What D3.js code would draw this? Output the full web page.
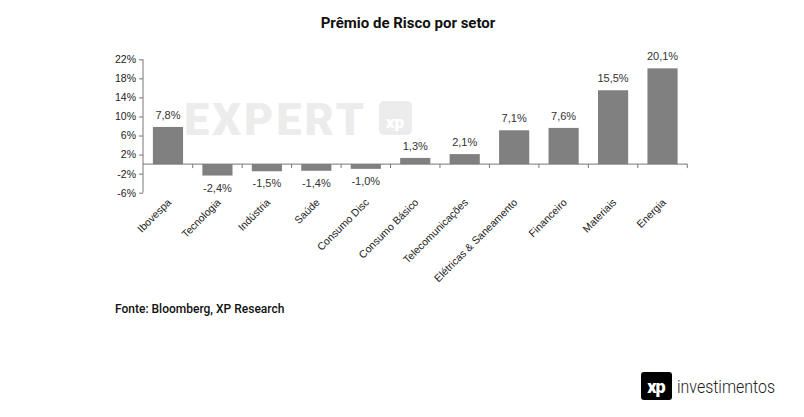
<!DOCTYPE html>
<html>
<head>
<meta charset="utf-8">
<script src="https://cdn.jsdelivr.net/npm/d3@7"></script>
<style>
  body { margin: 0; background: #fff; }
</style>
</head>
<body>
<div id="chart"></div>
<script>
var setores = ["Ibovespa", "Tecnologia", "Indústria", "Saúde", "Consumo Disc", "Consumo Básico",
  "Telecomunicações", "Elétricas & Saneamento", "Financeiro", "Materiais", "Energia"];
var premio = [7.8, -2.4, -1.5, -1.4, -1.0, 1.3, 2.1, 7.1, 7.6, 15.5, 20.1];
var yTicks = [-6, -2, 2, 6, 10, 14, 18, 22];

var svg = d3.select("#chart")
  .append("svg")
  .attr("width", 804)
  .attr("height", 417);

// marca d'agua
var wm = svg.append("g").attr("fill", "#ececec");
wm.append("text")
  .attr("x", 184).attr("y", 135)
  .attr("font-family", "Roboto, sans-serif")
  .attr("font-weight", "900")
  .attr("font-size", 45)
  .attr("letter-spacing", 3)
  .text("EXPERT");
wm.append("rect")
  .attr("x", 379).attr("y", 101).attr("width", 33).attr("height", 34).attr("rx", 5);
wm.append("text")
  .attr("x", 395).attr("y", 128)
  .attr("text-anchor", "middle")
  .attr("fill", "#fff")
  .attr("font-family", "Roboto, sans-serif")
  .attr("font-weight", "900")
  .attr("font-size", 17)
  .text("xp");

var x = d3.scaleBand()
  .domain(setores)
  .range([143, 687.5])
  .paddingInner(0.39)
  .paddingOuter(0.2);

var y = d3.scaleLinear()
  .domain([-6, 22])
  .range([192.7, 59.3]);

svg.append("text")
  .attr("x", 408).attr("y", 28)
  .attr("text-anchor", "middle")
  .attr("font-family", "Roboto, sans-serif")
  .attr("font-weight", "bold")
  .attr("font-size", 15)
  .attr("fill", "#111")
  .text("Prêmio de Risco por setor");

// eixo y
var yAxis = svg.append("g")
  .attr("transform", "translate(143,0)")
  .call(d3.axisLeft(y).tickValues(yTicks).tickSize(4).tickFormat(function (d) { return d + "%"; }));
yAxis.selectAll("path, line").attr("stroke", "#777");
yAxis.select(".domain").attr("d", "M0," + y(-6) + "V" + y(22));
yAxis.selectAll("text")
  .attr("font-family", "Liberation Sans, Arial, sans-serif")
  .attr("font-size", 10.5)
  .attr("fill", "#222");

// barras
svg.selectAll(".bar")
  .data(premio)
  .enter()
  .append("rect")
  .attr("x", function (d, i) { return x(setores[i]); })
  .attr("width", x.bandwidth())
  .attr("y", function (d) { return y(Math.max(d, 0)); })
  .attr("height", function (d) { return Math.abs(y(d) - y(0)); })
  .attr("fill", "#808080");

// linha do zero com divisões
var step = x.step();
var zero = y(0);
var gap = step - x.bandwidth();
svg.append("line")
  .attr("x1", 143).attr("x2", 687.5)
  .attr("y1", zero).attr("y2", zero)
  .attr("stroke", "#777");
for (var i = 1; i <= setores.length; i++) {
  var tx = x(setores[0]) - gap / 2 + step * i;
  svg.append("line")
    .attr("x1", tx).attr("x2", tx)
    .attr("y1", zero).attr("y2", zero + 4)
    .attr("stroke", "#777");
}

// rótulos
svg.selectAll(".lbl")
  .data(premio)
  .enter()
  .append("text")
  .attr("x", function (d, i) { return x(setores[i]) + x.bandwidth() / 2; })
  .attr("y", function (d) { return d >= 0 ? y(d) - 8 : y(d) + 16; })
  .attr("text-anchor", "middle")
  .attr("font-family", "Liberation Sans, Arial, sans-serif")
  .attr("font-size", 11)
  .attr("fill", "#333")
  .text(function (d) { return d.toFixed(1).replace(".", ",") + "%"; });

// categorias
svg.selectAll(".cat")
  .data(setores)
  .enter()
  .append("text")
  .attr("transform", function (d) {
    return "translate(" + (x(d) + x.bandwidth() / 2 + 4) + ",203) rotate(-45)";
  })
  .attr("text-anchor", "end")
  .attr("font-family", "Liberation Sans, Arial, sans-serif")
  .attr("font-size", 10.5)
  .attr("fill", "#222")
  .text(function (d) { return d; });

svg.append("text")
  .attr("x", 115).attr("y", 313)
  .attr("font-family", "Roboto, sans-serif")
  .attr("font-weight", "500")
  .attr("font-size", 12)
  .attr("fill", "#111")
  .text("Fonte: Bloomberg, XP Research");

// logo xp
var logo = svg.append("g");
logo.append("rect")
  .attr("x", 641).attr("y", 372).attr("width", 31).attr("height", 28).attr("rx", 3)
  .attr("fill", "#000");
logo.append("text")
  .attr("x", 656).attr("y", 393)
  .attr("text-anchor", "middle")
  .attr("font-family", "Roboto, sans-serif")
  .attr("font-weight", "900")
  .attr("font-size", 18)
  .attr("letter-spacing", -1)
  .attr("fill", "#fff")
  .text("xp");
logo.append("text")
  .attr("x", 677).attr("y", 393)
  .attr("font-family", "Roboto, sans-serif")
  .attr("font-weight", "300")
  .attr("font-size", 17.5)
  .attr("textLength", 98)
  .attr("lengthAdjust", "spacingAndGlyphs")
  .attr("fill", "#222")
  .text("investimentos");
</script>
</body>
</html>
